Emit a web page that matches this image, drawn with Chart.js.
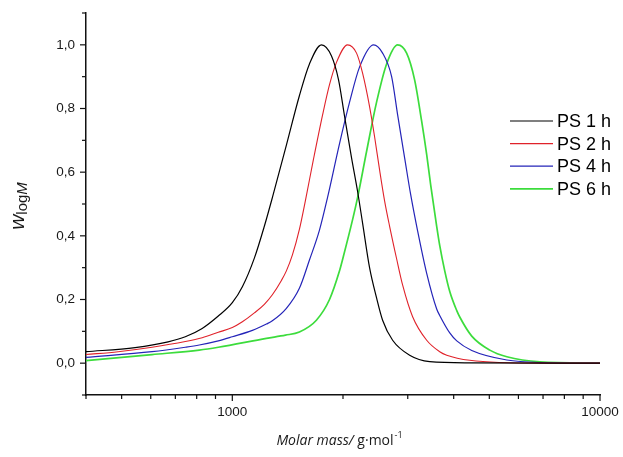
<!DOCTYPE html>
<html>
<head>
<meta charset="utf-8">
<script src="https://cdn.jsdelivr.net/npm/chart.js@4.4.1/dist/chart.umd.min.js"></script>
<style>
  html, body { margin: 0; padding: 0; background: #ffffff; }
  #wrap { width: 623px; height: 457px; }
</style>
</head>
<body>
<div id="wrap"><canvas id="chart" width="623" height="457"></canvas></div>
<script>
// Molar mass distributions (w_logM) of polystyrene after different reaction times
const seriesLabels = ['PS 1 h', 'PS 2 h', 'PS 4 h', 'PS 6 h'];
const seriesColors = ['#000000', '#e0222a', '#2424b8', '#3cdc3c'];

const mass1h = [400, 544, 669, 745, 828, 916, 1000, 1065, 1148, 1222, 1285, 1403, 1522, 1621, 1748, 1861, 1945, 2020, 2110, 2191, 2261, 2362, 2468, 2563, 2729, 3036, 3442, 4424, 10000];
const w1h    = [0.036, 0.049, 0.067, 0.083, 0.109, 0.148, 0.19, 0.24, 0.33, 0.43, 0.52, 0.685, 0.84, 0.94, 1.0, 0.965, 0.89, 0.775, 0.645, 0.54, 0.44, 0.30, 0.205, 0.135, 0.072, 0.025, 0.005, 0.001, 0.0];

const mass2h = [400, 489, 605, 745, 828, 916, 1000, 1065, 1148, 1222, 1285, 1360, 1403, 1457, 1522, 1580, 1662, 1760, 1838, 1920, 2058, 2177, 2261, 2362, 2437, 2515, 2595, 2678, 2798, 2906, 3093, 3378, 3665, 3830, 4424, 6864, 10000];
const w2h    = [0.027, 0.036, 0.050, 0.068, 0.080, 0.097, 0.112, 0.13, 0.158, 0.185, 0.215, 0.26, 0.29, 0.34, 0.42, 0.51, 0.64, 0.78, 0.875, 0.945, 1.0, 0.974, 0.911, 0.806, 0.712, 0.607, 0.51, 0.43, 0.328, 0.245, 0.146, 0.072, 0.036, 0.025, 0.009, 0.0, 0.0];

const mass4h = [400, 605, 745, 813, 916, 1000, 1134, 1238, 1285, 1403, 1522, 1621, 1726, 1815, 1957, 2084, 2218, 2423, 2563, 2712, 2816, 2942, 3055, 3192, 3378, 3596, 3665, 3903, 4078, 4479, 5580, 6864, 10000];
const w4h    = [0.018, 0.036, 0.05, 0.057, 0.07, 0.083, 0.103, 0.123, 0.133, 0.172, 0.235, 0.324, 0.418, 0.52, 0.69, 0.82, 0.93, 1.0, 0.974, 0.9, 0.78, 0.645, 0.53, 0.415, 0.282, 0.17, 0.15, 0.095, 0.07, 0.04, 0.01, 0.002, 0.0];

const mass6h = [400, 605, 813, 916, 1238, 1395, 1522, 1693, 1838, 1957, 1994, 2123, 2191, 2318, 2468, 2628, 2816, 2979, 3132, 3273, 3378, 3463, 3596, 3665, 3782, 3903, 4078, 4155, 4479, 5015, 5580, 6864, 10000];
const w6h    = [0.008, 0.027, 0.041, 0.05, 0.078, 0.088, 0.098, 0.135, 0.2, 0.29, 0.325, 0.45, 0.52, 0.665, 0.82, 0.94, 1.0, 0.974, 0.89, 0.76, 0.655, 0.56, 0.43, 0.37, 0.29, 0.225, 0.165, 0.145, 0.085, 0.041, 0.02, 0.004, 0.0];

// Axis ticks
const xMajorTicks = [1000, 10000];
const xMinorTicks = [400, 500, 600, 700, 800, 900, 2000, 3000, 4000, 5000, 6000, 7000, 8000, 9000];
const yMajorTicks = [0.0, 0.2, 0.4, 0.6, 0.8, 1.0];
const yMinorTicks = [-0.1, 0.1, 0.3, 0.5, 0.7, 0.9, 1.1];

const masses = [mass1h, mass2h, mass4h, mass6h];
const weights = [w1h, w2h, w4h, w6h];
const lineWidths = [1.2, 1.1, 1.2, 1.7];

const datasets = seriesLabels.map((label, i) => ({
  label,
  data: masses[i].map((m, k) => ({ x: m, y: weights[i][k] })),
  borderColor: seriesColors[i],
  backgroundColor: seriesColors[i],
  borderWidth: lineWidths[i],
  pointRadius: 0,
  fill: false,
  cubicInterpolationMode: 'monotone'
}));

const TICK_FONT = { family: '"Liberation Sans", Arial, sans-serif', size: 13.5 };
const AXIS_COLOR = '#111111';

function buildTicks(major, minor) {
  return major.map(v => ({ value: v, major: true }))
    .concat(minor.map(v => ({ value: v, major: false })))
    .sort((a, b) => a.value - b.value);
}

// Short outward tick marks, longer for labelled ticks
const tickMarks = {
  id: 'tickMarks',
  afterDraw(chart) {
    const { ctx, scales: { x, y }, chartArea: a } = chart;
    ctx.save();
    ctx.strokeStyle = AXIS_COLOR;
    ctx.lineWidth = 1.2;
    x.ticks.forEach(t => {
      const px = x.getPixelForValue(t.value);
      const len = t.major ? 6 : 4;
      ctx.beginPath();
      ctx.moveTo(px, a.bottom);
      ctx.lineTo(px, a.bottom + len);
      ctx.stroke();
    });
    y.ticks.forEach(t => {
      const py = y.getPixelForValue(t.value);
      const len = t.major ? 6 : 4;
      ctx.beginPath();
      ctx.moveTo(a.left, py);
      ctx.lineTo(a.left - len, py);
      ctx.stroke();
    });
    ctx.restore();
  }
};

// Axis titles with italic, subscript and superscript parts
const axisTitles = {
  id: 'axisTitles',
  afterDraw(chart) {
    const { ctx, chartArea: a } = chart;
    ctx.save();
    ctx.fillStyle = '#1a1a1a';
    ctx.textBaseline = 'alphabetic';

    // x title: Molar mass/ g·mol^-1
    const f1 = 'italic 14px "Open Sans", sans-serif';
    const f2 = '14px "Open Sans", sans-serif';
    const f3 = '9px "Open Sans", sans-serif';
    const p1 = 'Molar mass/', p2 = ' g·mol', p3 = '-1';
    ctx.font = f1; const w1 = ctx.measureText(p1).width;
    ctx.font = f2; const w2 = ctx.measureText(p2).width;
    ctx.font = f3; const w3 = ctx.measureText(p3).width;
    let xx = 339 - (w1 + w2 + w3) / 2;
    const by = 445;
    ctx.font = f1; ctx.fillText(p1, xx, by); xx += w1;
    ctx.font = f2; ctx.fillText(p2, xx, by); xx += w2;
    ctx.font = f3; ctx.fillText(p3, xx + 1, by - 7);

    // y title: w_logM
    const g1 = 'italic 21px "Liberation Sans", Arial, sans-serif';
    const g2 = '15px "Liberation Sans", Arial, sans-serif';
    const g3 = 'italic 15px "Liberation Sans", Arial, sans-serif';
    const q1 = 'w', q2 = 'log', q3 = 'M';
    ctx.font = g1; const v1 = ctx.measureText(q1).width;
    ctx.font = g2; const v2 = ctx.measureText(q2).width;
    ctx.font = g3; const v3 = ctx.measureText(q3).width;
    ctx.translate(24, 206);
    ctx.rotate(-Math.PI / 2);
    let yy = -(v1 + v2 + v3) / 2;
    ctx.font = g1; ctx.fillText(q1, yy, 0); yy += v1;
    ctx.font = g2; ctx.fillText(q2, yy, 3); yy += v2;
    ctx.font = g3; ctx.fillText(q3, yy, 3);
    ctx.restore();
  }
};

// Legend inside the plot, right of the peaks
const insideLegend = {
  id: 'insideLegend',
  afterDraw(chart) {
    const { ctx } = chart;
    const x0 = 510, x1 = 553, tx = 557, y0 = 121, dy = 22.6;
    ctx.save();
    ctx.font = '18px "Liberation Sans", Arial, sans-serif';
    ctx.textBaseline = 'middle';
    chart.data.datasets.forEach((ds, i) => {
      const yy = y0 + i * dy;
      ctx.strokeStyle = ds.borderColor;
      ctx.lineWidth = ds.borderWidth;
      ctx.beginPath();
      ctx.moveTo(x0, yy);
      ctx.lineTo(x1, yy);
      ctx.stroke();
      ctx.fillStyle = '#000000';
      ctx.fillText(ds.label, tx, yy + 1);
    });
    ctx.restore();
  }
};

new Chart(document.getElementById('chart'), {
  type: 'line',
  data: { datasets },
  plugins: [tickMarks, axisTitles, insideLegend],
  options: {
    responsive: false,
    animation: false,
    devicePixelRatio: 1,
    layout: { padding: { left: 0, right: 23, top: 13, bottom: 0 } },
    plugins: { legend: { display: false }, tooltip: { enabled: false } },
    scales: {
      x: {
        type: 'logarithmic',
        min: 400,
        max: 10000,
        afterBuildTicks: s => { s.ticks = buildTicks(xMajorTicks, xMinorTicks); },
        afterFit: s => { s.height = 62; s.paddingLeft = 0; s.paddingRight = 0; },
        grid: { display: true, drawOnChartArea: false, drawTicks: false },
        border: { display: true, color: AXIS_COLOR, width: 1.5 },
        ticks: {
          autoSkip: false,
          maxRotation: 0,
          padding: 9,
          color: '#1a1a1a',
          font: TICK_FONT,
          callback: v => (xMajorTicks.includes(v) ? String(v) : '')
        }
      },
      y: {
        type: 'linear',
        min: -0.1,
        max: 1.1,
        afterBuildTicks: s => { s.ticks = buildTicks(yMajorTicks, yMinorTicks); },
        afterFit: s => { s.width = 86; s.paddingTop = 0; s.paddingBottom = 0; },
        grid: { display: true, drawOnChartArea: false, drawTicks: false },
        border: { display: true, color: AXIS_COLOR, width: 1.5 },
        ticks: {
          autoSkip: false,
          padding: 11,
          color: '#1a1a1a',
          font: TICK_FONT,
          callback: v => (yMajorTicks.some(m => Math.abs(m - v) < 1e-9) ? v.toFixed(1).replace('.', ',') : '')
        }
      }
    }
  }
});
</script>
</body>
</html>
